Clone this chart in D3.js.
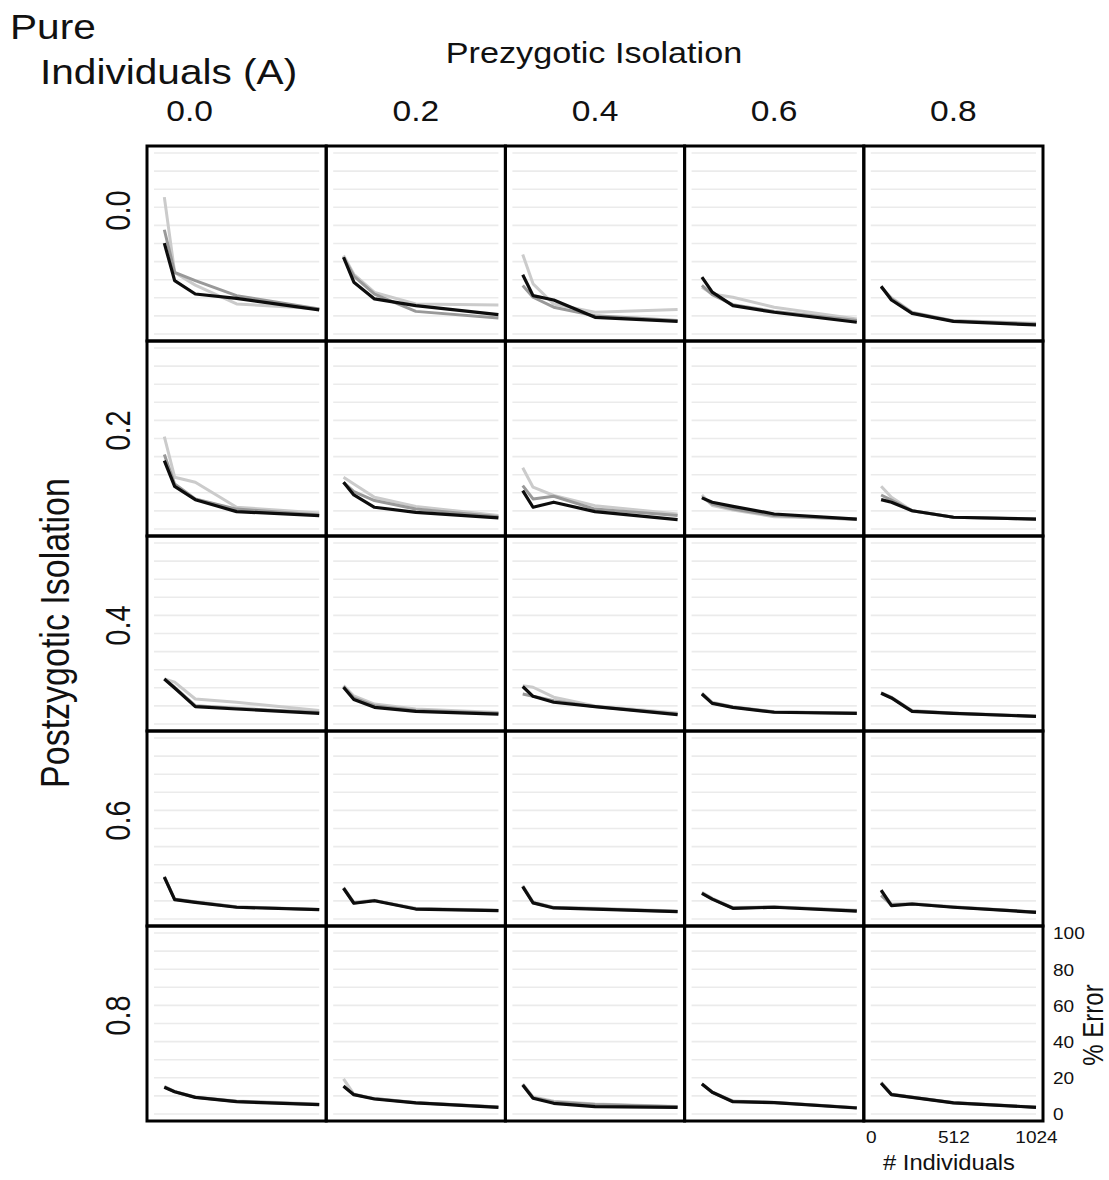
<!DOCTYPE html>
<html>
<head>
<meta charset="utf-8">
<script src="https://cdn.jsdelivr.net/npm/d3@7"></script>
<style>
  html, body { margin: 0; padding: 0; background: #fff; }
  svg { display: block; }
  text { font-family: "Liberation Sans", Arial, sans-serif; fill: #111; }
</style>
</head>
<body>
<svg id="chart" width="1109" height="1180"></svg>
<script>
// ---------------- DATA ----------------
const xValues = [64, 128, 256, 512, 1024];          // # Individuals
const prezygotic = ["0.0", "0.2", "0.4", "0.6", "0.8"];   // columns
const postzygotic = ["0.0", "0.2", "0.4", "0.6", "0.8"];  // rows
const yTicks = [0, 20, 40, 60, 80, 100];
const xTicks = [0, 512, 1024];
const yGrid = [0, 10, 20, 30, 40, 50, 60, 70, 80, 90, 100];

// % Error, indexed [postzygotic row][prezygotic column][xValues]
const errorLight = [
  [[75.6, 34, 27, 16.6, 14], [43.4, 33, 23, 16.6, 16], [43.9, 27.7, 16.6, 12, 13.5], [25.8, 22.1, 20.3, 14.8, 8.3], [25.8, 20, 12, 7.4, 5.9]],
  [[51.1, 28.6, 25.8, 12, 8.9], [28.6, 24.9, 17.5, 12.5, 7.4], [33.8, 23.1, 18.5, 12.9, 8.3], [18.8, 13, 10.5, 6.8, 5.7], [23.6, 17.5, 10.1, 6.5, 5.5]],
  [[24.9, 23.1, 13.8, 12, 7.4], [21.2, 15.5, 11, 8.3, 6.3], [21.2, 20.3, 14.8, 10, 6.1], [17, 12, 9.6, 6.8, 6.1], [17.2, 14.8, 7.4, 6.1, 4.4]],
  [[23.5, 11, 9.6, 6.8, 5.3], [17.5, 9.2, 10.3, 5.9, 4.8], [18.5, 9.4, 6.5, 5.9, 4.4], [14.8, 11.4, 6.3, 6.8, 4.8], [15.3, 8.3, 8.5, 6.8, 3.9]],
  [[15.3, 12.5, 9.4, 7.2, 5.5], [19.4, 11, 8.5, 6.3, 3.9], [16.6, 9.4, 7, 5.5, 4.1], [16.8, 12.2, 7.2, 6.5, 3.5], [17.5, 11, 9.4, 6.3, 3.9]]
];
const errorMid = [
  [[57.6, 34.1, 29.5, 21.2, 13.8], [42.4, 32, 22, 12.5, 8.9], [26.8, 20.3, 14.8, 10.1, 7.4], [26.8, 21.8, 16.2, 12.5, 7.4], [26, 19.5, 11.7, 7.2, 5.5]],
  [[41.1, 24.9, 16.6, 11, 7.7], [25.8, 20.7, 15.7, 11, 6.8], [24, 16.6, 18.1, 11, 7.4], [17.5, 13.8, 11, 7.4, 5.2], [18.8, 16, 10.1, 6.5, 5.5]],
  [[24.9, 20.3, 10.1, 8.7, 6.3], [20.7, 14.4, 10.1, 7.4, 5.9], [16.6, 15.3, 12.9, 9.6, 5.5], [16.8, 11.6, 9.4, 6.6, 5.9], [17.2, 14.6, 7.2, 6, 4.2]],
  [[23.3, 10.9, 9.4, 6.6, 5.2], [17.1, 8.9, 10.2, 5.6, 4.7], [18, 9.0, 6.3, 5.6, 4.2], [14.4, 11.1, 6.0, 6.6, 4.5], [13, 7.8, 8.3, 6.6, 3.8]],
  [[15, 12.3, 9.2, 6.9, 5.3], [15.6, 10.7, 8.5, 6.2, 3.8], [16.2, 9, 6.6, 5.2, 4], [16.6, 12, 7, 6.4, 3.4], [17.2, 10.8, 9.3, 6.2, 3.7]]
];
const errorDark = [
  [[50.2, 29.5, 22.1, 19.7, 13.3], [42.4, 28.6, 19.4, 15.7, 10.7], [32.7, 21.2, 18.8, 9.2, 7], [31.4, 23.1, 15.7, 12, 6.5], [26.4, 18.8, 11.4, 7, 5]],
  [[37.8, 23.6, 16.2, 9.6, 7.4], [25.8, 18.8, 12, 9.2, 6.1], [21.2, 12, 14.8, 9.6, 5.2], [17.2, 14.8, 12.5, 8.3, 5.5], [16.2, 14.8, 10.1, 6.5, 5.5]],
  [[24.9, 19.9, 9.6, 8.3, 5.9], [20.3, 13.5, 9.2, 7, 5.5], [20.7, 15.3, 12, 9.6, 5.2], [16.6, 11.4, 9.2, 6.5, 5.9], [17, 14.4, 7, 5.9, 4.2]],
  [[23.1, 10.7, 9.2, 6.5, 5.2], [17, 8.7, 10.1, 5.5, 4.6], [17.9, 8.9, 6.1, 5.5, 4.1], [14.2, 11, 5.9, 6.5, 4.4], [16, 7.4, 8.3, 6.5, 3.7]],
  [[14.8, 12.3, 9.2, 6.8, 5.2], [15.3, 10.7, 8.3, 6.1, 3.7], [16, 8.7, 5.9, 4.1, 3.7], [16.6, 12, 6.8, 6.3, 3.3], [17, 10.7, 9.2, 6.1, 3.7]]
];

// ---------------- LAYOUT ----------------
const svg = d3.select("#chart");

const colScale = d3.scaleBand().domain(prezygotic).range([147, 1043]);
const rowScale = d3.scaleBand().domain(postzygotic).range([146, 1121]);
const bw = colScale.bandwidth(), bh = rowScale.bandwidth();
const x = d3.scaleLinear().domain([0, 1024]).range([7, bw - 7]);
const y = d3.scaleLinear().domain([0, 100]).range([bh - 7, 7]);

const series = [
  { data: errorLight, color: "#cbcbcb", width: 3 },
  { data: errorMid, color: "#999999", width: 3 },
  { data: errorDark, color: "#0d0d0d", width: 3.2 }
];

const line = d3.line().x((d, i) => x(xValues[i])).y(d => y(d));

postzygotic.forEach((rk, ri) => {
  prezygotic.forEach((ck, ci) => {
    const g = svg.append("g")
      .attr("transform", `translate(${colScale(ck)},${rowScale(rk)})`);
    g.selectAll("line.grid").data(yGrid).enter().append("line")
      .attr("x1", x(0)).attr("x2", x(1024))
      .attr("y1", d => y(d)).attr("y2", d => y(d))
      .attr("stroke", "#ebebeb").attr("stroke-width", 1.6);
    series.forEach(s => {
      g.append("path")
        .attr("d", line(s.data[ri][ci]))
        .attr("fill", "none")
        .attr("stroke", s.color)
        .attr("stroke-width", s.width)
        .attr("stroke-linejoin", "round");
    });
  });
});

// panel borders
postzygotic.forEach(rk => {
  prezygotic.forEach(ck => {
    svg.append("rect")
      .attr("x", colScale(ck)).attr("y", rowScale(rk))
      .attr("width", bw).attr("height", bh)
      .attr("fill", "none").attr("stroke", "#000").attr("stroke-width", 3);
  });
});

// helpers for stretched text
function htext(str, px, py, size, sx, anchor) {
  return svg.append("text")
    .attr("transform", `translate(${px},${py}) scale(${sx},1)`)
    .attr("text-anchor", anchor || "start")
    .style("font-size", size + "px")
    .text(str);
}
function vtext(str, px, py, size, sx) {
  return svg.append("text")
    .attr("transform", `translate(${px},${py}) scale(${sx},1) rotate(-90)`)
    .attr("text-anchor", "middle")
    .style("font-size", size + "px")
    .text(str);
}

// titles
htext("Pure", 10, 39, 35, 1.16);
htext("Individuals (A)", 40, 84, 35, 1.16);
htext("Prezygotic Isolation", 594, 63, 30, 1.14, "middle");

// column labels
const colLabelShift = [-47, 0, 0, 0, 0];
prezygotic.forEach((ck, i) => {
  htext(ck, colScale(ck) + bw / 2 + colLabelShift[i], 121, 30, 1.12, "middle");
});

// row labels
const rowLabelShift = [-33, -8, -8, -8, -8];
postzygotic.forEach((rk, i) => {
  vtext(rk, 130, rowScale(rk) + bh / 2 + rowLabelShift[i], 29, 1.2);
});
vtext("Postzygotic Isolation", 69, 633, 34, 1.2);

// axes on bottom-right panel
const lastCol = prezygotic[prezygotic.length - 1];
const lastRow = postzygotic[postzygotic.length - 1];
const yAxisG = svg.append("g")
  .attr("transform", `translate(${colScale(lastCol) + bw},${rowScale(lastRow)})`)
  .call(d3.axisRight(y).tickValues(yTicks).tickSize(0).tickPadding(0).tickFormat(d3.format("d")));
yAxisG.select(".domain").remove();
yAxisG.selectAll("text")
  .attr("x", null)
  .attr("transform", `translate(10,0) scale(1.12,1)`)
  .attr("dy", "0.35em")
  .style("font-size", "17px")
  .style("font-family", "'Liberation Sans', Arial, sans-serif")
  .attr("fill", "#111");

const xAxisG = svg.append("g")
  .attr("transform", `translate(${colScale(lastCol)},${rowScale(lastRow) + bh})`)
  .call(d3.axisBottom(x).tickValues(xTicks).tickSize(0).tickPadding(0).tickFormat(d3.format("d")));
xAxisG.select(".domain").remove();
xAxisG.selectAll("text")
  .attr("y", null).attr("dy", null)
  .attr("transform", `translate(0,22) scale(1.12,1)`)
  .style("font-size", "17px")
  .style("font-family", "'Liberation Sans', Arial, sans-serif")
  .attr("fill", "#111");

htext("# Individuals", 949, 1170, 22, 1.08, "middle");
vtext("% Error", 1103, 1025, 24, 1.2);
</script>
</body>
</html>
